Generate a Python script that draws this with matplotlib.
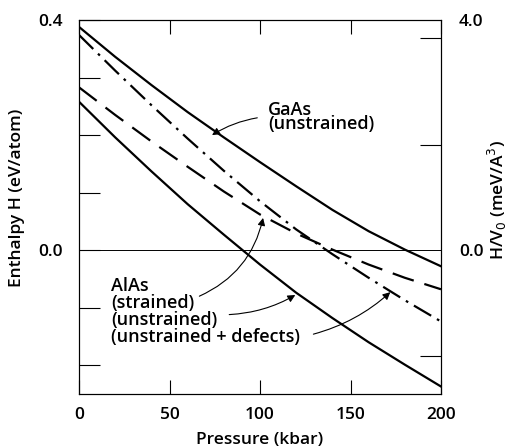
import matplotlib
matplotlib.use("Agg")
import matplotlib.pyplot as plt
import numpy as np

plt.rcParams['font.family'] = ['Open Sans', 'DejaVu Sans']

# Data
pressure = [0, 20, 40, 60, 80, 100, 120, 140, 160, 180, 200]
gaas_unstrained = [0.388, 0.336, 0.287, 0.240, 0.196, 0.153, 0.111, 0.070, 0.033, 0.001, -0.028]
alas_defects = [0.374, 0.312, 0.252, 0.194, 0.138, 0.085, 0.036, -0.007, -0.048, -0.087, -0.124]
alas_strained = [0.283, 0.235, 0.189, 0.145, 0.102, 0.062, 0.029, 0.001, -0.025, -0.048, -0.068]
alas_unstrained = [0.258, 0.196, 0.137, 0.080, 0.027, -0.025, -0.074, -0.118, -0.160, -0.199, -0.237]

x_ticks = [0, 50, 100, 150, 200]
y_ticks = [-0.2, -0.1, 0.0, 0.1, 0.2, 0.3, 0.4]
y_labels = ['', '', '0.0', '', '', '', '0.4']

W, H = 511, 448
fig = plt.figure(figsize=(W / 100, H / 100), dpi=100)
ax = fig.add_axes([79 / W, 1 - 394 / H, (441 - 79) / W, (394 - 20) / H])

lw = 1.6
ax.plot(pressure, gaas_unstrained, color='k', lw=lw)
ax.plot(pressure, alas_defects, color='k', lw=lw, dashes=(9, 3, 1.2, 3))
ax.plot(pressure, alas_strained, color='k', lw=lw, dashes=(10, 5))
ax.plot(pressure, alas_unstrained, color='k', lw=lw)
ax.axhline(0, color='k', lw=0.7)

ax.set_xlim(0, 200)
ax.set_ylim(-0.25, 0.4)

for s in ax.spines.values():
    s.set_linewidth(0.8)

tfs = 12.5
ax.set_xticks(x_ticks)
ax.set_xticklabels([str(v) for v in x_ticks], fontsize=tfs, fontweight='semibold')
ax.set_yticks(y_ticks)
ax.set_yticklabels(y_labels, fontsize=tfs, fontweight='semibold')
ax.tick_params(axis='x', direction='in', length=10, width=0.8, top=True, pad=9)
ax.tick_params(axis='y', direction='in', length=15, width=0.8, pad=12)

ax.set_xlabel('Pressure (kbar)', fontsize=tfs, fontweight='semibold', labelpad=7)
ax.set_ylabel('Enthalpy H (eV/atom)', fontsize=tfs, fontweight='semibold')
ax.yaxis.set_label_coords(-0.148, 0.524)

# Right axis
ax2 = ax.twinx()
ax2.set_ylim(-2.5, 4.0)
ax2.set_yticks([0.0, 4.0])
ax2.set_yticklabels(['0.0', '4.0'], fontsize=tfs, fontweight='semibold')
ax2.set_yticks([-1.843, 1.826, 3.687], minor=True)
ax2.tick_params(axis='y', which='major', length=0, pad=13)
ax2.tick_params(axis='y', which='minor', direction='in', length=15, width=0.8)
fig.text(497 / W, 1 - 200 / H, r'H/V$_0$ (meV/A$^3$)', fontsize=tfs, fontweight='semibold',
         rotation=90, ha='center', va='center')

# Text annotations
fs = 13
ax.text(104.4, (250 - 101) / 575, 'GaAs\n(unstrained)', fontsize=fs, fontweight='semibold',
        ha='left', va='top', linespacing=0.72)

alas_lines = ['AlAs', '(strained)', '(unstrained)', '(unstrained + defects)']
base_px = [291, 307.5, 324.5, 342]
for t, by in zip(alas_lines, base_px):
    ax.text(17.7, (250 - by) / 575, t, fontsize=fs, fontweight='semibold', ha='left', va='baseline')

arrow = dict(arrowstyle='-|>', color='k', lw=0.8, mutation_scale=11, shrinkA=0, shrinkB=0)
ax.annotate('', xy=(73.5, 0.200), xytext=(98.5, 0.230),
            arrowprops=dict(arrow, connectionstyle='arc3,rad=0.1'))
ax.annotate('', xy=(101.7, 0.056), xytext=(66.5, -0.080),
            arrowprops=dict(arrow, connectionstyle='arc3,rad=0.25'))
ax.annotate('', xy=(119.5, -0.078), xytext=(83.0, -0.112),
            arrowprops=dict(arrow, connectionstyle='arc3,rad=0.12'))
ax.annotate('', xy=(172.0, -0.073), xytext=(129.5, -0.146),
            arrowprops=dict(arrow, connectionstyle='arc3,rad=0.12'))

fig.savefig('out.png', dpi=100)
